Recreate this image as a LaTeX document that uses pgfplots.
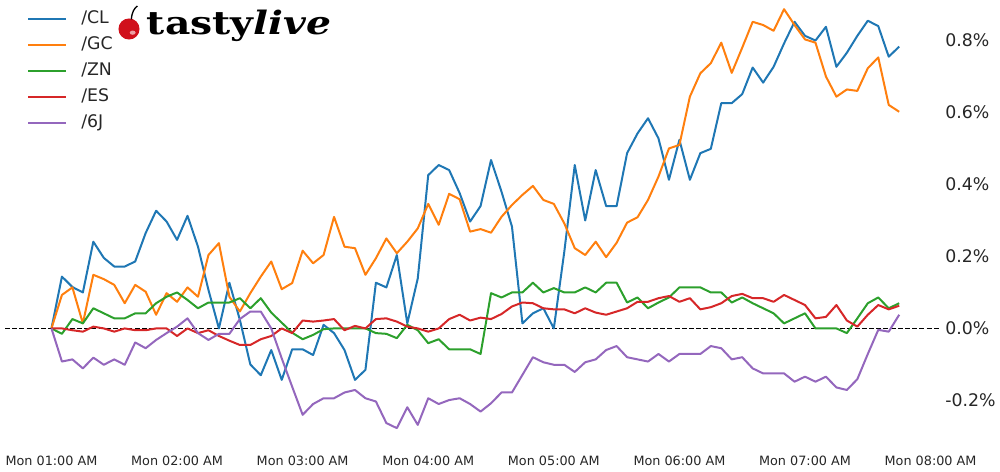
\documentclass[border=0pt]{standalone}
\usepackage{fontspec}
\setmainfont{DejaVu Sans}
\newfontfamily\logofont{DejaVu Serif}
\usepackage{graphicx}
\usepackage{pgfplots}
\usepackage{pgfplotstable}
\pgfplotsset{compat=1.18}
\definecolor{tabblue}{HTML}{1F77B4}
\definecolor{taborange}{HTML}{FF7F0E}
\definecolor{tabgreen}{HTML}{2CA02C}
\definecolor{tabred}{HTML}{D62728}
\definecolor{tabpurple}{HTML}{9467BD}
\definecolor{cherry}{HTML}{D0101B}

\pgfplotstableread{
i CL GC ZN ES J
0 0 0 0 0 0
1 0.144 0.093 -0.015 0.000 -0.092
2 0.115 0.114 0.026 -0.005 -0.086
3 0.100 0.014 0.014 -0.009 -0.111
4 0.241 0.149 0.056 0.005 -0.081
5 0.196 0.137 0.042 0.000 -0.101
6 0.172 0.121 0.028 -0.009 -0.086
7 0.172 0.070 0.028 0.000 -0.101
8 0.186 0.121 0.042 -0.005 -0.039
9 0.265 0.102 0.042 -0.005 -0.055
10 0.327 0.038 0.070 0.000 -0.032
11 0.297 0.098 0.088 0.000 -0.013
12 0.246 0.074 0.100 -0.021 0.005
13 0.313 0.114 0.079 0.000 0.028
14 0.227 0.088 0.056 -0.013 -0.013
15 0.107 0.204 0.072 -0.005 -0.032
16 0.000 0.237 0.072 -0.021 -0.015
17 0.127 0.088 0.072 -0.034 -0.015
18 0.024 0.047 0.084 -0.046 0.026
19 -0.100 0.098 0.056 -0.046 0.047
20 -0.130 0.144 0.084 -0.030 0.047
21 -0.060 0.186 0.044 -0.021 0.000
22 -0.143 0.109 0.016 0.000 -0.083
23 -0.058 0.126 -0.012 -0.013 -0.162
24 -0.058 0.216 -0.030 0.022 -0.240
25 -0.074 0.181 -0.018 0.019 -0.210
26 0.010 0.204 -0.002 0.022 -0.194
27 -0.013 0.310 0.000 0.026 -0.194
28 -0.060 0.227 0.000 -0.005 -0.178
29 -0.143 0.223 0.000 0.007 -0.171
30 -0.115 0.149 0.000 0.000 -0.194
31 0.127 0.195 -0.013 0.026 -0.203
32 0.114 0.250 -0.015 0.028 -0.263
33 0.204 0.209 -0.027 0.019 -0.277
34 0.014 0.241 0.010 0.005 -0.219
35 0.139 0.278 -0.005 0.000 -0.268
36 0.426 0.346 -0.041 -0.009 -0.194
37 0.454 0.288 -0.030 0.000 -0.210
38 0.440 0.374 -0.058 0.026 -0.199
39 0.376 0.359 -0.058 0.038 -0.194
40 0.297 0.269 -0.058 0.022 -0.210
41 0.340 0.276 -0.071 0.030 -0.231
42 0.468 0.266 0.098 0.026 -0.208
43 0.380 0.310 0.086 0.040 -0.178
44 0.283 0.343 0.100 0.061 -0.178
45 0.014 0.371 0.100 0.072 -0.129
46 0.042 0.396 0.127 0.070 -0.080
47 0.056 0.357 0.100 0.056 -0.094
48 0.000 0.346 0.112 0.053 -0.101
49 0.213 0.292 0.100 0.053 -0.101
50 0.454 0.223 0.100 0.042 -0.121
51 0.300 0.204 0.114 0.056 -0.094
52 0.440 0.241 0.100 0.044 -0.086
53 0.340 0.198 0.127 0.038 -0.060
54 0.340 0.238 0.127 0.047 -0.049
55 0.487 0.294 0.072 0.056 -0.080
56 0.542 0.309 0.086 0.074 -0.086
57 0.584 0.357 0.056 0.074 -0.092
58 0.528 0.422 0.072 0.084 -0.071
59 0.413 0.500 0.086 0.090 -0.092
60 0.524 0.510 0.114 0.074 -0.071
61 0.413 0.644 0.114 0.084 -0.071
62 0.487 0.709 0.114 0.053 -0.071
63 0.499 0.737 0.100 0.059 -0.049
64 0.626 0.794 0.100 0.070 -0.055
65 0.626 0.710 0.072 0.090 -0.086
66 0.651 0.780 0.086 0.096 -0.080
67 0.725 0.852 0.070 0.084 -0.111
68 0.683 0.843 0.056 0.084 -0.125
69 0.727 0.827 0.042 0.074 -0.125
70 0.792 0.887 0.014 0.093 -0.125
71 0.852 0.843 0.028 0.079 -0.148
72 0.813 0.803 0.042 0.065 -0.134
73 0.800 0.794 0.000 0.028 -0.148
74 0.838 0.700 0.000 0.032 -0.134
75 0.727 0.644 0.000 0.065 -0.164
76 0.766 0.664 -0.013 0.022 -0.171
77 0.813 0.660 0.028 0.005 -0.141
78 0.855 0.723 0.070 0.038 -0.071
79 0.840 0.753 0.086 0.065 -0.004
80 0.755 0.621 0.056 0.053 -0.009
81 0.783 0.602 0.070 0.063 0.038
}\data

\begin{document}
\begin{tikzpicture}
\path[use as bounding box] (0,0) rectangle (750bp,354bp);
\begin{axis}[
  at={(3.75bp,24bp)}, anchor=south west,
  width=701.25bp, height=328.5bp, scale only axis,
  xmin=-4.44, xmax=84.9, ymin=-0.31, ymax=0.907,
  axis line style={draw=none},
  major tick length=0pt,
  xtick={0,12,24,36,48,60,72,84},
  xticklabels={Mon 01:00 AM,Mon 02:00 AM,Mon 03:00 AM,Mon 04:00 AM,Mon 05:00 AM,Mon 06:00 AM,Mon 07:00 AM,Mon 08:00 AM},
  ytick={-0.2,0,0.2,0.4,0.6,0.8},
  yticklabels={-0.2\%,0.0\%,0.2\%,0.4\%,0.6\%,0.8\%},
  yticklabel pos=right,
  xticklabel style={font=\fontsize{9.6bp}{11bp}\selectfont, inner sep=0pt, yshift=-12bp, text=black!85},
  yticklabel style={font=\fontsize{13bp}{15bp}\selectfont, inner sep=0pt, anchor=west, xshift=3.75bp, text=black!85},
  legend style={at={(rel axis cs:0,1)}, anchor=north west, xshift=16.5bp, yshift=-6.4bp,
    draw=none, fill=none, inner sep=0pt, row sep=7.5bp, column sep=10.5bp,
    font=\fontsize{13bp}{15bp}\selectfont,
    nodes={inner sep=0pt, text height=9.5bp, text depth=2.5bp, text=black!85}},
  legend cell align=left,
  legend image code/.code={\draw[#1] (0bp,0bp) -- (28.5bp,0bp);},
  every axis plot/.append style={line width=1.5bp, line join=round},
  clip=false,
]
\addplot[black, line width=1bp, dash pattern=on 3.8bp off 1.6bp, forget plot] coordinates {(-4.44,0) (84.9,0)};
\addplot[tabblue] table[x=i, y=CL] {\data};
\addlegendentry{/CL}
\addplot[taborange] table[x=i, y=GC] {\data};
\addlegendentry{/GC}
\addplot[tabgreen] table[x=i, y=ZN] {\data};
\addlegendentry{/ZN}
\addplot[tabred] table[x=i, y=ES] {\data};
\addlegendentry{/ES}
\addplot[tabpurple] table[x=i, y=J] {\data};
\addlegendentry{/6J}
\end{axis}
% logo
\fill[cherry] (96.75bp,332.25bp) circle (7.9bp);
\fill[white, opacity=0.6] (99.5bp,329.5bp) ellipse (2.2bp and 1.6bp);
\draw[black, line width=1bp] (98.5bp,339.5bp) .. controls (99bp,345bp) and (100.5bp,347.5bp) .. (103bp,349.5bp);
\node[anchor=base west, inner sep=0pt] at (110bp,327.75bp)
  {\scalebox{1.28}[1.05]{\logofont\fontsize{23bp}{26bp}\selectfont\bfseries tasty\textit{live}}};
\end{tikzpicture}
\end{document}
